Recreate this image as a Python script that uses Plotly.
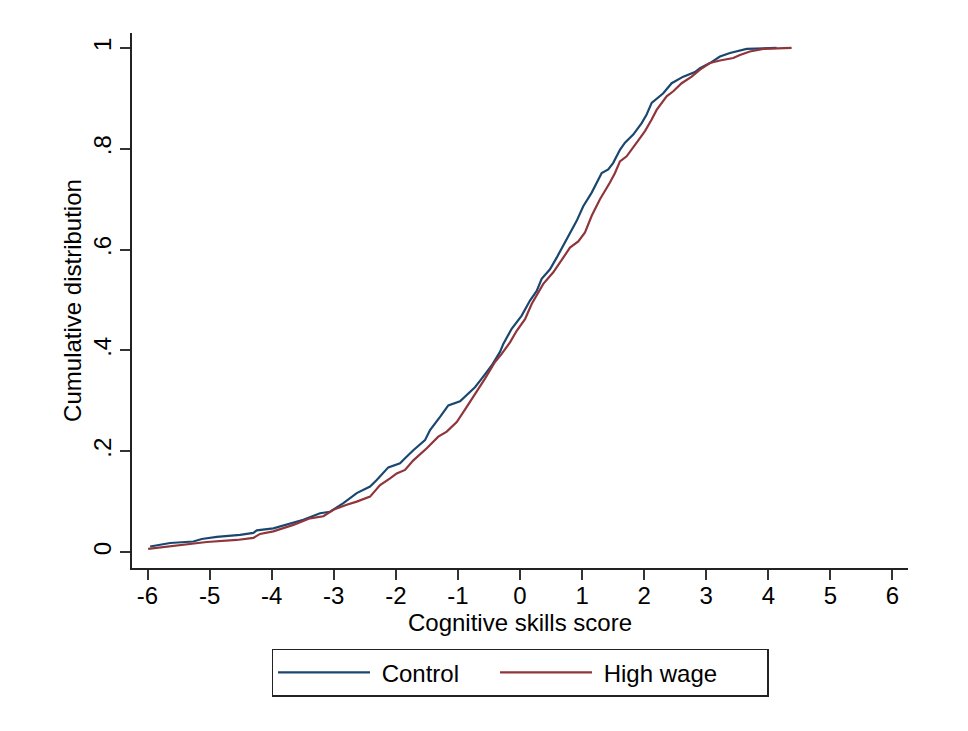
import plotly.graph_objects as go

# Control (blue) CDF points
control_x = [-5.958, -5.636, -5.261, -5.126, -4.884, -4.509, -4.295, -4.240, -3.973, -3.651,
             -3.490, -3.221, -3.060, -2.845, -2.630, -2.415, -2.308, -2.121, -1.932, -1.852,
             -1.718, -1.530, -1.449, -1.288, -1.155, -0.966, -0.833, -0.725, -0.617, -0.456,
             -0.322, -0.269, -0.134, 0.027, 0.161, 0.269, 0.349, 0.483, 0.591, 0.725, 0.805,
             0.913, 1.019, 1.155, 1.316, 1.422, 1.502, 1.610, 1.691, 1.824, 1.960, 2.040,
             2.121, 2.308, 2.443, 2.630, 2.818, 2.899, 3.060, 3.221, 3.382, 3.651, 4.134]
control_y = [0.011, 0.018, 0.021, 0.026, 0.030, 0.034, 0.038, 0.043, 0.047, 0.059,
             0.064, 0.077, 0.080, 0.097, 0.117, 0.130, 0.143, 0.168, 0.176, 0.186,
             0.202, 0.222, 0.242, 0.268, 0.291, 0.299, 0.314, 0.327, 0.344, 0.370,
             0.397, 0.413, 0.443, 0.469, 0.499, 0.518, 0.542, 0.561, 0.584, 0.614, 0.634,
             0.657, 0.686, 0.713, 0.752, 0.759, 0.772, 0.798, 0.812, 0.828, 0.851, 0.868,
             0.891, 0.910, 0.930, 0.943, 0.952, 0.960, 0.970, 0.983, 0.990, 0.998, 1.0]

# High wage (red) CDF points
high_x = [-5.99, -5.636, -5.045, -4.562, -4.295, -4.187, -3.973, -3.651, -3.382, -3.167,
          -3.006, -2.791, -2.630, -2.415, -2.254, -2.093, -1.986, -1.852, -1.718, -1.502,
          -1.316, -1.180, -1.019, -0.858, -0.697, -0.564, -0.403, -0.295, -0.161, -0.053,
          0.081, 0.188, 0.375, 0.536, 0.697, 0.805, 0.939, 1.047, 1.155, 1.288, 1.449,
          1.530, 1.610, 1.718, 1.879, 2.013, 2.121, 2.201, 2.362, 2.469, 2.604, 2.765,
          2.899, 3.060, 3.221, 3.435, 3.543, 3.704, 3.918, 4.375]
high_y = [0.0065, 0.011, 0.020, 0.024, 0.028, 0.036, 0.041, 0.054, 0.067, 0.071,
          0.084, 0.094, 0.100, 0.110, 0.133, 0.146, 0.156, 0.163, 0.182, 0.206,
          0.229, 0.239, 0.258, 0.288, 0.318, 0.344, 0.377, 0.393, 0.416, 0.439,
          0.462, 0.492, 0.532, 0.555, 0.584, 0.604, 0.616, 0.634, 0.667, 0.700, 0.733,
          0.752, 0.775, 0.785, 0.812, 0.835, 0.858, 0.877, 0.904, 0.914, 0.930, 0.943,
          0.957, 0.970, 0.975, 0.980, 0.986, 0.993, 0.998, 1.0]

x_ticks = [-6, -5, -4, -3, -2, -1, 0, 1, 2, 3, 4, 5, 6]
y_ticks = [0, 0.2, 0.4, 0.6, 0.8, 1.0]
y_tick_labels = ["0", ".2", ".4", ".6", ".8", "1"]

FONT = "Liberation Sans, Arial, Helvetica, sans-serif"

fig = go.Figure()
fig.add_trace(go.Scatter(x=control_x, y=control_y, mode="lines", name="\u00a0Control",
                         line=dict(color="#1a476f", width=2.2), legendwidth=115))
fig.add_trace(go.Scatter(x=high_x, y=high_y, mode="lines", name="\u00a0High wage",
                         line=dict(color="#90353b", width=2.2), legendwidth=165))

axis_common = dict(showgrid=False, zeroline=False, showline=True, linecolor="#222",
                   linewidth=1.5, ticks="outside", ticklen=10, tickwidth=1.5, tickcolor="#333",
                   tickfont=dict(size=24, color="#000", family=FONT))

fig.update_layout(
    width=968, height=731,
    margin=dict(l=132, r=60, t=33, b=163),
    paper_bgcolor="white", plot_bgcolor="white",
    font=dict(family=FONT, size=24, color="#000"),
    xaxis=dict(range=[-6.25, 6.25], tickvals=x_ticks, ticktext=[str(v) for v in x_ticks],
               ticklabelstandoff=-5,
               title=dict(text="Cognitive skills score", font=dict(size=24), standoff=4),
               **axis_common),
    yaxis=dict(range=[-0.0316, 1.0296], tickvals=y_ticks, ticktext=y_tick_labels, tickangle=-90,
               title=dict(text="Cumulative distribution", font=dict(size=24), standoff=0),
               **axis_common),
    legend=dict(orientation="h", x=0.5, xanchor="center", y=-0.151, yanchor="top",
                bordercolor="#222", borderwidth=1.5, itemwidth=92,
                font=dict(size=24), bgcolor="white"),
    showlegend=True,
)

fig.write_html("out.html")
